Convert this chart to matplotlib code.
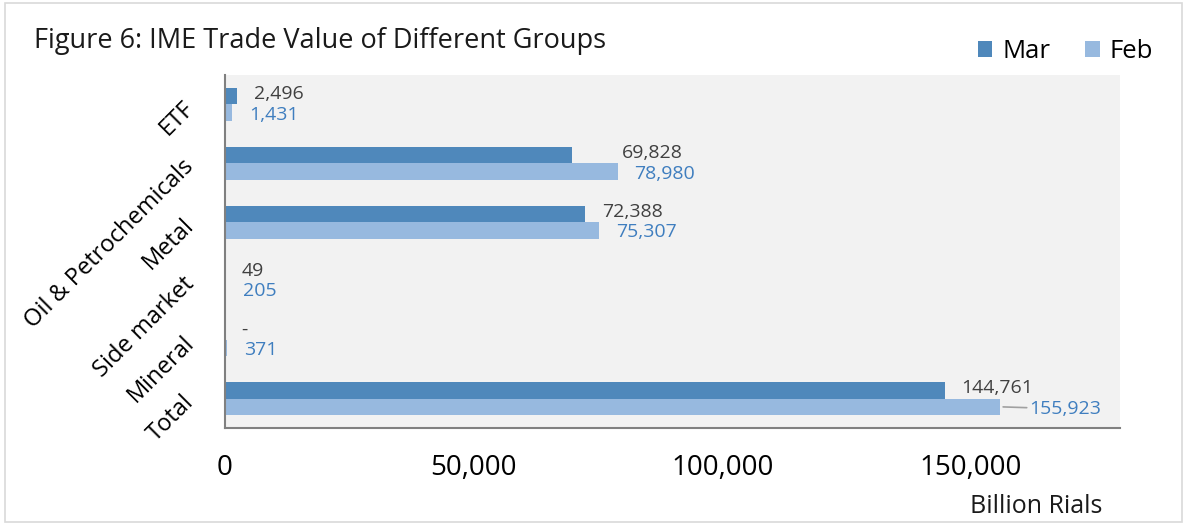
import numpy as np
import matplotlib.pyplot as plt
from matplotlib.patches import Rectangle

plt.rcParams['font.family'] = ['Open Sans', 'DejaVu Sans']

# data
groups = ['ETF', 'Oil & Petrochemicals', 'Metal', 'Side market', 'Mineral', 'Total']
mar = [2496, 69828, 72388, 49, 0, 144761]
feb = [1431, 78980, 75307, 205, 371, 155923]
xticks = [0, 50000, 100000, 150000]

c_mar = '#4F88BB'
c_feb = '#97B9DF'

fig = plt.figure(figsize=(11.87, 5.24), dpi=100)
ax = fig.add_axes([0.1896, 0.1832, 0.754, 0.6737])
ax.set_facecolor('#F2F2F2')

y = np.arange(len(groups))
h = 0.28
ax.barh(y - h / 2, mar, height=h, color=c_mar, label='Mar')
ax.barh(y + h / 2, feb, height=h, color=c_feb, label='Feb')

ax.set_ylim(len(groups) - 0.5, -0.5)
ax.set_xlim(0, 180000)

def fmt(v):
    return '-' if v == 0 else f'{v:,}'

for i in range(len(groups)):
    dx = 36 if groups[i].startswith('Oil') else 12
    ax.annotate(fmt(mar[i]), (mar[i], y[i] - h / 2), xytext=(dx, 1.5),
                textcoords='offset points', ha='left', va='center',
                fontsize=14, color='#404040')
    if groups[i] == 'Total':
        ax.annotate(fmt(feb[i]), (feb[i], y[i] + h / 2), xytext=(21, -1.5),
                    textcoords='offset points', ha='left', va='center',
                    fontsize=14, color='#3F7EBF',
                    arrowprops=dict(arrowstyle='-', color='#A0A0A0', lw=1.2,
                                    shrinkA=0, shrinkB=2))
    else:
        ax.annotate(fmt(feb[i]), (feb[i], y[i] + h / 2), xytext=(12, -1.5),
                    textcoords='offset points', ha='left', va='center',
                    fontsize=14, color='#3F7EBF')

ax.set_xticks(xticks)
ax.set_xticklabels([f'{t:,}' for t in xticks], fontsize=20)
ax.set_yticks(y)
ax.set_yticklabels(groups, fontsize=17, rotation=45, ha='right',
                   rotation_mode='anchor', va='center')
ax.tick_params(axis='both', length=0)
ax.tick_params(axis='x', pad=19)
ax.tick_params(axis='y', pad=25)

for s in ['top', 'right']:
    ax.spines[s].set_visible(False)
ax.spines['left'].set_color('#808080')
ax.spines['left'].set_linewidth(1.5)
ax.spines['bottom'].set_color('#808080')
ax.spines['bottom'].set_linewidth(1.5)

fig.text(0.029, 0.922, 'Figure 6: IME Trade Value of Different Groups',
         fontsize=19.5, color='#1a1a1a', va='center', ha='left')
fig.text(0.929, 0.033, 'Billion Rials', fontsize=18, color='#1a1a1a',
         ha='right', va='center')

ax.legend(loc='center right', bbox_to_anchor=(0.991, 0.902),
          bbox_transform=fig.transFigure, ncol=2, frameon=False,
          fontsize=18.5, handlelength=0.55, handleheight=0.55,
          columnspacing=1.35, handletextpad=0.4)

fig.patches.append(Rectangle((0.004, 0.004), 0.992, 0.990, transform=fig.transFigure,
                             fill=False, edgecolor='#D9D9D9', lw=1.2))

fig.savefig('out.png', dpi=100)
